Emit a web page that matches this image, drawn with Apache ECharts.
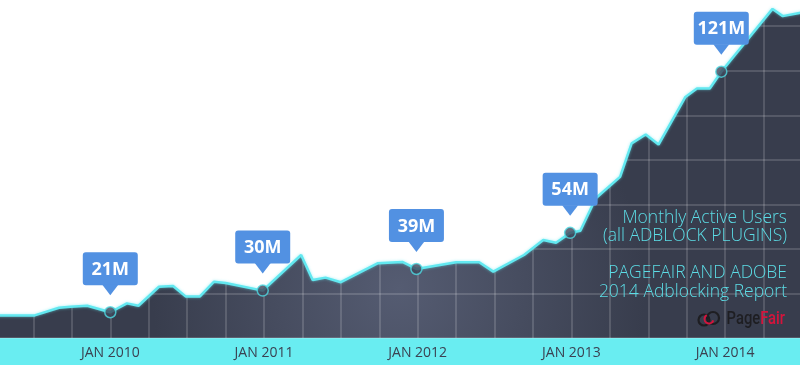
<!DOCTYPE html>
<html>
<head>
<meta charset="utf-8">
<script src="https://cdn.jsdelivr.net/npm/echarts@6/dist/echarts.min.js"></script>
<style>
  html, body { margin: 0; padding: 0; background: #ffffff; overflow: hidden; width: 800px; height: 365px; position: relative; }
  #chart { position: absolute; left: -8px; top: 0; width: 813px; height: 365px;
    background: linear-gradient(to bottom, #ffffff 0px, #ffffff 338px, #69edf1 338px, #69edf1 365px); }
</style>
</head>
<body>
<div id="chart"></div>
<script>
// Months counted from Jan 2009 (Jan 2010 = 12)
const months = [3.0, 6.1, 8.0, 8.9, 10.2, 12.0, 13.3, 14.2, 15.8, 16.9, 17.9, 19.0, 20.1, 21.0,
  23.9, 26.9, 27.8, 28.8, 30.0, 32.9, 34.8, 35.9, 39.0, 40.8, 41.9, 44.3, 45.8, 46.8, 47.9,
  48.7, 49.9, 51.8, 52.7, 53.8, 54.8, 56.9, 57.8, 58.8, 59.7, 63.7, 64.5, 66.0];
// Monthly active users (millions)
const users = [19.7, 19.7, 22.9, 23.3, 23.7, 21.0, 24.7, 23.7, 31.6, 31.9, 27.5, 27.6, 33.7, 33.2,
  30.0, 44.8, 34.4, 35.4, 33.5, 41.4, 41.9, 39.0, 41.8, 41.8, 37.9, 44.8, 51.0, 49.9, 54.0,
  54.9, 68.4, 77.3, 91.2, 94.9, 90.7, 110.5, 114.0, 114.0, 121.0, 147.1, 144.1, 145.6];

const markerMonths = [12.0, 23.9, 35.9, 47.9, 59.7];
const markerValues = [21, 30, 39, 54, 121];
const markerLabels = ['21M', '30M', '39M', '54M', '121M'];

const labelMonths = [12, 24, 36, 48, 60];
const tickLabels = ['JAN 2010', 'JAN 2011', 'JAN 2012', 'JAN 2013', 'JAN 2014'];

const lineData = months.map((m, i) => [m, users[i]]);
const markerData = markerMonths.map((m, i) => [m, markerValues[i]]);

const chart = echarts.init(document.getElementById('chart'), null, { renderer: 'canvas' });

const gridLine = { show: true, lineStyle: { color: 'rgba(255,255,255,0.2)', width: 1.5 } };
const OX = 8; // chart div is shifted 8px left of the page
const noteFont = '300 17.5px "Open Sans"';
const noteColor = '#5cdde6';

chart.setOption({
  backgroundColor: 'transparent',
  animation: false,
  grid: { left: 0, right: 0, top: 0, bottom: 27, containLabel: false },
  xAxis: {
    type: 'value', min: 3, max: 66, interval: 3, z: 5,
    axisLine: { show: false }, axisTick: { show: false },
    splitLine: gridLine,
    axisLabel: {
      margin: 8, color: '#3b4252', fontSize: 14, fontFamily: 'Open Sans',
      formatter: v => { const i = labelMonths.indexOf(Math.round(v)); return i >= 0 && Math.abs(v - labelMonths[i]) < 0.01 ? tickLabels[i] : ''; }
    }
  },
  yAxis: [
    { type: 'value', min: 10.3, max: 150.8, show: false, splitLine: { show: false } },
    { type: 'value', min: 0, max: 7.587, interval: 1, z: 5,
      axisLine: { show: false }, axisTick: { show: false }, axisLabel: { show: false },
      splitLine: gridLine }
  ],
  series: [
    {
      type: 'line', data: lineData, z: 2, showSymbol: false, symbol: 'none',
      lineStyle: { width: 0 },
      areaStyle: {
        origin: 'start', opacity: 1,
        color: new echarts.graphic.RadialGradient(0.5, 0.85, 0.75, [
          { offset: 0, color: '#555c72' },
          { offset: 1, color: '#383d4d' }
        ])
      }
    },
    {
      type: 'line', data: lineData, z: 6, showSymbol: false, symbol: 'none',
      lineStyle: { width: 2.5, color: '#62e8f0', shadowBlur: 3, shadowColor: 'rgba(98,232,240,0.6)' }
    },
    {
      type: 'scatter', data: markerData, z: 8, symbolSize: 11,
      itemStyle: { color: '#3f4559', borderColor: '#4fdbe4', borderWidth: 1.5 }
    },
    {
      type: 'custom', data: markerData, z: 10, clip: false,
      renderItem: function (params, api) {
        const p = api.coord([api.value(0), api.value(1)]);
        const w = 55, h = 33, bottom = p[1] - 27;
        const fill = '#5291e2';
        return {
          type: 'group',
          children: [
            { type: 'rect', shape: { x: p[0] - w / 2, y: bottom - h, width: w, height: h, r: 3 }, style: { fill: fill } },
            { type: 'polygon', shape: { points: [[p[0] - 8, bottom - 0.5], [p[0] + 8, bottom - 0.5], [p[0], p[1] - 17]] }, style: { fill: fill } },
            { type: 'text', x: p[0], y: bottom - h / 2 + 1,
              style: { text: markerLabels[params.dataIndex], fill: '#ffffff', font: 'bold 18px "Open Sans"', align: 'center', verticalAlign: 'middle' } }
          ]
        };
      }
    }
  ],
  graphic: [
    { type: 'text', x: 787 + OX, y: 218, z: 100, style: { text: 'Monthly Active Users', fill: noteColor, font: noteFont, align: 'right', verticalAlign: 'middle' } },
    { type: 'text', x: 787 + OX, y: 236, z: 100, style: { text: '(all ADBLOCK PLUGINS)', fill: noteColor, font: noteFont, align: 'right', verticalAlign: 'middle' } },
    { type: 'text', x: 787 + OX, y: 273, z: 100, style: { text: 'PAGEFAIR AND ADOBE', fill: noteColor, font: noteFont, align: 'right', verticalAlign: 'middle' } },
    { type: 'text', x: 787 + OX, y: 292, z: 100, style: { text: '2014 Adblocking Report', fill: noteColor, font: noteFont, align: 'right', verticalAlign: 'middle' } },
    { type: 'circle', z: 100, shape: { cx: 704 + OX, cy: 320, r: 5.5 }, style: { fill: 'none', stroke: '#1e1e22', lineWidth: 2.2 } },
    { type: 'circle', z: 100, shape: { cx: 713 + OX, cy: 318, r: 6 }, style: { fill: 'none', stroke: '#1e1e22', lineWidth: 2.2 } },
    { type: 'arc', z: 101, shape: { cx: 709 + OX, cy: 319, r: 4.5, startAngle: 0.3, endAngle: 4.2 }, style: { fill: 'none', stroke: '#d4143c', lineWidth: 2 } },
    { type: 'text', x: 785 + OX, y: 319, z: 100, scaleX: 0.82, style: {
        text: '{a|Page}{b|Fair}', align: 'right', verticalAlign: 'middle',
        rich: { a: { fill: '#1e1e22', font: '500 18px Roboto' },
                b: { fill: '#d4143c', font: '500 18px Roboto' } } } }
  ]
});
</script>
</body>
</html>
